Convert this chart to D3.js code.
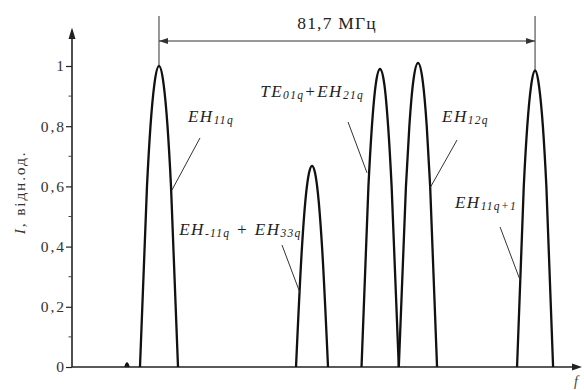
<!DOCTYPE html>
<html>
<head>
<meta charset="utf-8">
<script src="https://cdn.jsdelivr.net/npm/d3@7"></script>
<style>
  html,body{margin:0;padding:0;background:#fff;}
  svg{display:block;}
  .trace{fill:none;stroke:#111;stroke-width:2.3;stroke-linejoin:round;}
  .axis-line{stroke:#222;stroke-width:1.6;}
  .thin{stroke:#333;stroke-width:1;}
</style>
</head>
<body>
<svg id="chart" width="584" height="390"></svg>
<script>
/* спектр резонатора: частота (МГц, відносно EH11q) та інтенсивність (відн. од.) */
const peakSmall = [[-7.30,0],[-6.95,0.012],[-6.60,0]];
const peakEH11  = [[-4.13,0],[-2.61,0.60],[-1.85,0.80],[-1.00,0.94],[0,1.00],[1.00,0.94],[1.85,0.80],[2.61,0.60],[4.13,0]];
const peakEHm11 = [[29.77,0],[31.07,0.40],[31.79,0.55],[32.60,0.645],[33.25,0.668],[33.90,0.645],[34.70,0.55],[35.42,0.40],[36.72,0]];
const peakTE01  = [[44.00,0],[45.50,0.60],[46.26,0.80],[47.10,0.94],[48.02,0.99],[48.95,0.94],[49.78,0.80],[50.54,0.60],[52.10,0]];
const peakEH12  = [[52.10,0],[53.65,0.60],[54.39,0.80],[55.25,0.95],[56.28,1.01],[57.30,0.95],[58.17,0.80],[58.91,0.60],[60.41,0]];
const peakEH11n = [[77.79,0],[79.25,0.60],[80.01,0.80],[80.85,0.935],[81.71,0.985],[82.55,0.935],[83.40,0.80],[84.16,0.60],[85.62,0]];
const peaks = [peakSmall, peakEH11, peakEHm11, peakTE01, peakEH12, peakEH11n];

const yTicks = [0, 0.2, 0.4, 0.6, 0.8, 1];
const yTickLabels = ["0", "0,2", "0,4", "0,6", "0,8", "1"];
const yMinor = [0.1, 0.3, 0.5, 0.7, 0.9];
const spanLabel = "81,7 МГц";
const spanFrom = 0, spanTo = 81.7;

/* підписи мод: [текст, індекс] частинами */
const annotations = [
  {parts:[["EH",0],["11q",1]],                       at:[6.3,0.814],  from:[8.91,0.761], to:[2.82,0.588]},
  {parts:[["EH",0],["-11q",1],[" + EH",0],["33q",1]],at:[4.4,0.4385], from:[26.73,0.405], to:[30.64,0.246]},
  {parts:[["TE",0],["01q",1],["+EH",0],["21q",1]],   at:[22.0,0.897], from:[41.07,0.814], to:[45.20,0.645]},
  {parts:[["EH",0],["12q",1]],                       at:[61.5,0.814], from:[64.75,0.754], to:[58.89,0.595]},
  {parts:[["EH",0],["11q+1",1]],                     at:[64.3,0.528], from:[74.10,0.465], to:[78.44,0.289]}
];

const SERIF = '"Liberation Serif", "Times New Roman", serif';

/* ---------------- шкали ---------------- */
const svg = d3.select("#chart");
const x = d3.scaleLinear().domain([-18.9, 91.9]).range([72, 582]);
const y = d3.scaleLinear().domain([0, 1]).range([367, 66]);

/* осі */
const ax = x(-18.9);
svg.append("line").attr("class","axis-line")
  .attr("x1",ax).attr("x2",x(91.9)-6).attr("y1",y(0)).attr("y2",y(0));
svg.append("line").attr("class","axis-line")
  .attr("x1",ax).attr("x2",ax).attr("y1",y(0)).attr("y2",y(1.12));
svg.append("path").attr("fill","#222")
  .attr("d",`M${ax},${y(1.128)} L${ax-3.5},${y(1.09)} L${ax+3.5},${y(1.09)} Z`);
svg.append("path").attr("fill","#222")
  .attr("d",`M${x(91.9)},${y(0)} L${x(91.9)-10},${y(0)-3.5} L${x(91.9)-10},${y(0)+3.5} Z`);

const yAxis = d3.axisLeft(y).tickValues(yTicks).tickSize(6).tickPadding(0)
  .tickFormat((d,i)=>yTickLabels[i]);
const gy = svg.append("g").attr("transform",`translate(${ax},0)`).call(yAxis);
gy.select(".domain").remove();
gy.selectAll(".tick line").attr("stroke","#222").attr("stroke-width",1.2);
gy.selectAll(".tick text").attr("fill","#333")
  .style("font-size","15.5px").style("letter-spacing","2px");
svg.append("g").selectAll("line").data(yMinor).join("line")
  .attr("x1",ax-3.5).attr("x2",ax).attr("y1",d=>y(d)).attr("y2",d=>y(d))
  .attr("stroke","#444").attr("stroke-width",1);

svg.append("text")
  .attr("transform",`translate(25,${y(0.58)}) rotate(-90)`)
  .attr("text-anchor","middle").attr("fill","#333")
  .style("font-size","15.5px").style("letter-spacing","1.8px")
  .html('<tspan font-style="italic">I</tspan>, відн.од.');

svg.append("text").attr("x",574).attr("y",386).attr("font-style","italic").attr("fill","#444")
  .style("font-size","14px").text("f");

/* ---------------- спектр ---------------- */
const line = d3.line().x(d=>x(d[0])).y(d=>y(d[1])).curve(d3.curveMonotoneX);
svg.append("g").selectAll("path").data(peaks).join("path")
  .attr("class","trace").attr("d",line);

/* ---------------- розмірна лінія 81,7 МГц ---------------- */
const dimY = 41;
svg.append("line").attr("class","thin").attr("x1",x(spanFrom)).attr("x2",x(spanFrom)).attr("y1",16).attr("y2",y(1.0));
svg.append("line").attr("class","thin").attr("x1",x(spanTo)).attr("x2",x(spanTo)).attr("y1",16).attr("y2",y(0.985));
svg.append("line").attr("class","thin").attr("x1",x(spanFrom)).attr("x2",x(spanTo)).attr("y1",dimY).attr("y2",dimY);
svg.append("path").attr("fill","#333")
  .attr("d",`M${x(spanFrom)},${dimY} l9,-3 l0,6 Z M${x(spanTo)},${dimY} l-9,-3 l0,6 Z`);
svg.append("text").attr("x",(x(spanFrom)+x(spanTo))/2-10).attr("y",29)
  .attr("text-anchor","middle").attr("fill","#222")
  .style("font-size","17.5px").style("letter-spacing","1.2px")
  .text(spanLabel);

/* ---------------- підписи ---------------- */
const ann = svg.append("g");
annotations.forEach(a=>{
  ann.append("line").attr("class","thin").attr("stroke","#555")
    .attr("x1",x(a.from[0])).attr("y1",y(a.from[1]))
    .attr("x2",x(a.to[0])).attr("y2",y(a.to[1]));
  const t = ann.append("text").attr("x",x(a.at[0])).attr("y",y(a.at[1]))
    .attr("fill","#222").style("font-style","italic")
    .style("font-size","17px").style("letter-spacing","1.5px");
  let shifted = false;
  a.parts.forEach(([s,sub])=>{
    const ts = t.append("tspan").text(s);
    if(sub){ ts.style("font-size","11.5px").style("letter-spacing","1.3px").attr("dy",2); shifted = true; }
    else if(shifted){ ts.attr("dy",-2); shifted = false; }
  });
});

/* шрифт з засічками для всіх підписів */
svg.selectAll("text").style("font-family", SERIF);
</script>
</body>
</html>
